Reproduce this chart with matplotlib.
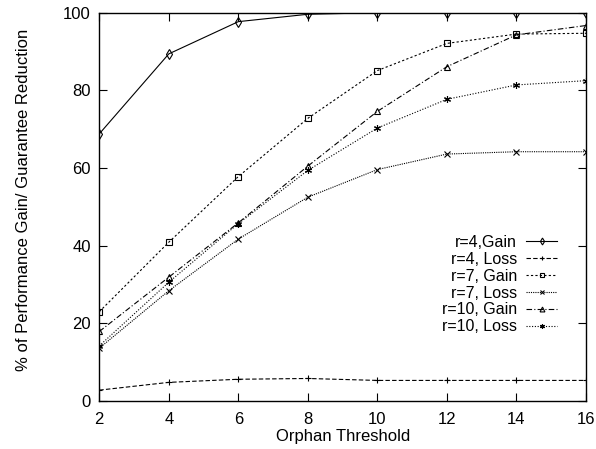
import matplotlib
matplotlib.use("Agg")
import matplotlib.pyplot as plt

plt.rcParams['font.family'] = ['Liberation Sans', 'DejaVu Sans']

threshold = [2, 4, 6, 8, 10, 12, 14, 16]
r4_gain = [68.8, 89.4, 97.7, 99.6, 100.0, 100.0, 100.0, 100.0]
r4_loss = [2.8, 4.8, 5.6, 5.8, 5.3, 5.3, 5.3, 5.3]
r7_gain = [23.0, 40.9, 57.8, 72.8, 85.1, 92.1, 94.5, 94.7]
r7_loss = [13.6, 28.4, 41.7, 52.5, 59.6, 63.6, 64.2, 64.2]
r10_gain = [17.9, 31.9, 45.9, 60.5, 74.6, 86.1, 94.3, 96.7]
r10_loss = [14.2, 30.6, 45.7, 59.4, 70.3, 77.7, 81.4, 82.5]

series = [
    ("r=4,Gain", r4_gain, "-", "d"),
    ("r=4, Loss", r4_loss, (0, (4, 2)), "+"),
    ("r=7, Gain", r7_gain, (0, (2, 2)), "s"),
    ("r=7, Loss", r7_loss, (0, (1, 1)), "x"),
    ("r=10, Gain", r10_gain, (0, (5, 2, 1, 2)), "^"),
    ("r=10, Loss", r10_loss, (0, (1, 1.5)), (6, 2, 0)),
]

fig = plt.figure(figsize=(5.96, 4.49), dpi=100)
ax = fig.add_axes([0.1666, 0.1069, 0.8166, 0.8648])

for label, vals, ls, mk in series:
    ax.plot(threshold, vals, color="black", lw=0.8, ls=ls, marker=mk, ms=5,
            mfc="none", mec="black", mew=0.8, label=label)

ax.set_xlim(2, 16)
ax.set_ylim(0, 100)
ax.set_xticks(range(2, 17, 2))
ax.set_yticks(range(0, 101, 20))
ax.tick_params(direction="in", length=6, width=0.8, top=True, right=True,
               labelsize=12)
ax.tick_params(axis="y", pad=6)
ax.tick_params(axis="x", pad=8)
for s in ax.spines.values():
    s.set_linewidth(1.0)

ax.set_xlabel("Orphan Threshold", fontsize=12, va="top")
ax.xaxis.set_label_coords(0.5, -0.071)
ax.set_ylabel("% of Performance Gain/ Guarantee Reduction", fontsize=12, va="center")
ax.yaxis.set_label_coords(-0.155, 0.518)

leg = ax.legend(loc="upper right", bbox_to_anchor=(0.94, 0.428), frameon=False,
                markerfirst=False, fontsize=11.5, handlelength=1.9,
                labelspacing=0.12, handletextpad=0.6, borderpad=0,
                borderaxespad=0, markerscale=0.7)
for t in leg.get_texts():
    t.set_ha("right")
leg._legend_box.align = "right"

fig.savefig("out.png", dpi=100)
